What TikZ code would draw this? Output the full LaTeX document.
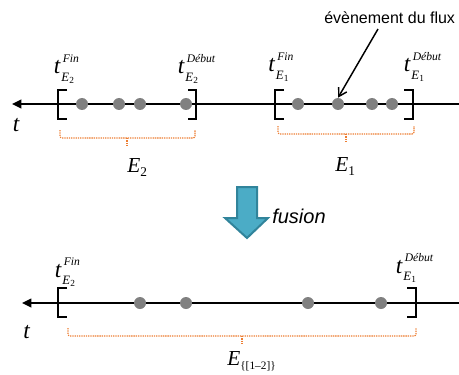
\documentclass[tikz,border=0pt]{standalone}
\usepackage{fontspec}
\setmainfont{Liberation Serif}
\newfontfamily\sansfam{Liberation Sans}
\usetikzlibrary{arrows.meta}
\definecolor{dotgray}{RGB}{128,128,128}
\definecolor{braceorange}{RGB}{237,125,49}
\definecolor{fusfill}{RGB}{75,172,198}
\definecolor{fusdraw}{RGB}{49,132,155}
\tikzset{
  axis/.style={line width=1.1pt, -{Triangle[length=7pt,width=6.5pt]}},
  brk/.style={line width=2.2pt},
  evdot/.style={circle, fill=dotgray, inner sep=0pt, minimum size=9pt},
  brace/.style={draw=braceorange, line width=0.9pt, dash pattern=on 1pt off 0.7pt, rounded corners=1.5pt},
  tmain/.style={inner sep=0pt, font=\fontsize{17.5}{17.5}\selectfont\itshape},
  tlabel/.style={inner sep=0pt, anchor=base west, font=\fontsize{17.5}{17.5}\selectfont},
  elab/.style={inner sep=0pt, font=\fontsize{16}{16}\selectfont},
}
% t with superscript (#1) and subscript E_{#2}, as one text
\newcommand{\tscr}[2]{%
  \textit{t}\hspace{0.4pt}%
  \makebox[0pt][l]{\raisebox{8.3pt}{\hspace{1.2pt}\fontsize{8.7}{8.7}\selectfont\itshape #1}}%
  \raisebox{-5.3pt}{\fontsize{9.6}{9.6}\selectfont\textit{E}\hspace{0.3pt}\raisebox{-1.6pt}{\fontsize{7}{7}\selectfont #2}}%
}
\begin{document}
\begin{tikzpicture}[x=0.75pt,y=-0.75pt]
\useasboundingbox (0,0) rectangle (459,374);

% ---------- top axis ----------
\coordinate (r1) at (459,104);
\coordinate (l1) at (12,104);
\draw[axis] (r1) -- (l1);
\node[tmain, anchor=base] (tax1) at (16,131) {t};

% E2 brackets
\draw[brk] (67,90) -- (58,90) -- (58,119) -- (67,119);
\draw[brk] (188,90) -- (196,90) -- (196,119) -- (188,119);
% E1 brackets
\draw[brk] (284,90) -- (275,90) -- (275,119) -- (284,119);
\draw[brk] (404,90) -- (413,90) -- (413,119) -- (404,119);

% dots
\node[evdot] (a1) at (82,104) {};
\node[evdot] (a2) at (119,104) {};
\node[evdot] (a3) at (140,104) {};
\node[evdot] (a4) at (186,104) {};
\node[evdot] (b1) at (298,104) {};
\node[evdot] (b2) at (338,104) {};
\node[evdot] (b3) at (372,104) {};
\node[evdot] (b4) at (392,104) {};

% labels t
\node[tlabel] (tfa) at (53.5,74) {\tscr{Fin}{2}};
\node[tlabel] (tda) at (177.5,74) {\tscr{Début}{2}};
\node[tlabel] (tfb) at (268,72) {\tscr{Fin}{1}};
\node[tlabel] (tdb) at (403.5,72) {\tscr{Début}{1}};

% braces
\draw[brace] (60,130) -- (60,138) -- (195,138) -- (195,130);
\draw[brace] (127,138) -- (127,147);
\draw[brace] (278,126) -- (278,134) -- (414,134) -- (414,126);
\draw[brace] (346,134) -- (346,143);
\node[elab, anchor=base west] (E2) at (127,172) {\textit{E}\raisebox{-3pt}{\fontsize{10}{10}\selectfont 2}};
\node[elab, anchor=base west] (E1) at (335,171) {\textit{E}\raisebox{-3pt}{\fontsize{10}{10}\selectfont 1}};

% event label and arrow
\node[inner sep=0pt, anchor=base west, font=\sansfam\fontsize{12}{12}\selectfont] (ev) at (324,24) {évènement du flux};
\coordinate (evs) at (378,29);
\draw[line width=1.1pt, -{Straight Barb[length=6pt,width=7pt]}] (evs) -- (b2.north);

% ---------- fusion arrow ----------
\draw[fusdraw, fill=fusfill, line width=1.5pt, line join=miter]
  (237,187) -- (257,187) -- (257,218) -- (268,218) -- (247,238) -- (225,218) -- (237,218) -- cycle;
\node[inner sep=0pt, anchor=base west, font=\sansfam\itshape\fontsize{15}{15}\selectfont] (fus) at (272,223) {fusion};

% ---------- bottom axis ----------
\coordinate (r2) at (459,303);
\coordinate (l2) at (22,303);
\draw[axis] (r2) -- (l2);
\node[tmain, anchor=base] (tax2) at (26.5,338) {t};

\draw[brk] (67,288) -- (58,288) -- (58,317) -- (67,317);
\draw[brk] (407,288) -- (416,288) -- (416,317) -- (407,317);

\node[evdot] (c1) at (140,303) {};
\node[evdot] (c2) at (186,303) {};
\node[evdot] (c3) at (308,303) {};
\node[evdot] (c4) at (381,303) {};

\node[tlabel] (tfc) at (54.5,277) {\tscr{Fin}{2}};
\node[tlabel] (tdc) at (395.5,273) {\tscr{Début}{1}};

\draw[brace] (68,328) -- (68,336) -- (416,336) -- (416,328);
\draw[brace] (242,336) -- (242,343);
\node[elab, anchor=base west] (E12) at (227,365) {\textit{E}\raisebox{-3pt}{\fontsize{8.5}{8.5}\selectfont\{[1--2]\}}};
\end{tikzpicture}
\end{document}
